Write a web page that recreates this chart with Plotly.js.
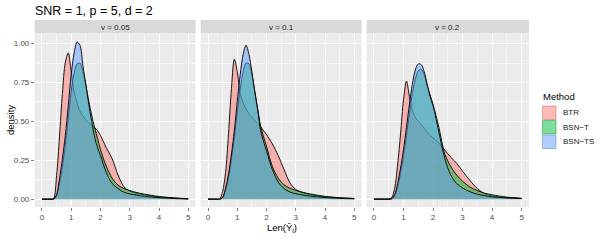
<!DOCTYPE html>
<html>
<head>
<meta charset="utf-8">
<script src="https://cdn.plot.ly/plotly-3.0.1.min.js"></script>
<style>html,body{margin:0;padding:0;background:#fff}#chart{width:600px;height:240px}</style>
</head>
<body>
<div id="chart"></div>
<script>
// ---- data ----
const panels = ["v = 0.05", "v = 0.1", "v = 0.2"];
const methods = ["BTR", "BSN\u2212T", "BSN\u2212TS"];
const xGrid = [0, 0.3, 0.4, 0.5, 0.6, 0.7, 0.8, 0.9, 1.0, 1.1, 1.2, 1.3, 1.4, 1.5, 1.6, 1.7, 1.8, 1.9, 2.0, 2.2, 2.4, 2.6, 2.8, 3.0, 3.25, 3.5, 3.75, 4.0, 4.5, 5.0];

const p1_BTR   = [0,0,0.005,0.15,0.40,0.68,0.88,0.94,0.82,0.69,0.62,0.565,0.535,0.51,0.49,0.475,0.46,0.44,0.41,0.33,0.26,0.155,0.08,0.052,0.037,0.028,0.02,0.014,0.007,0.002];
const p1_BSNT  = [0,0,0,0.02,0.10,0.21,0.35,0.52,0.69,0.81,0.87,0.875,0.82,0.73,0.63,0.54,0.46,0.39,0.32,0.21,0.135,0.09,0.068,0.055,0.042,0.032,0.024,0.017,0.008,0.003];
const p1_BSNTS = [0,0,0,0.03,0.13,0.26,0.41,0.60,0.80,0.94,1.01,0.99,0.86,0.74,0.61,0.50,0.40,0.33,0.28,0.17,0.10,0.068,0.045,0.034,0.025,0.018,0.013,0.009,0.004,0.001];

const p2_BTR   = [0,0,0,0.05,0.17,0.42,0.71,0.90,0.82,0.68,0.62,0.58,0.55,0.525,0.505,0.485,0.465,0.44,0.415,0.355,0.28,0.19,0.105,0.062,0.042,0.029,0.021,0.015,0.008,0.004];
const p2_BSNT  = [0,0,0,0.01,0.06,0.14,0.26,0.40,0.56,0.71,0.82,0.875,0.87,0.80,0.69,0.58,0.47,0.40,0.34,0.21,0.135,0.092,0.07,0.056,0.043,0.033,0.025,0.018,0.009,0.004];
const p2_BSNTS = [0,0,0,0.01,0.07,0.16,0.29,0.44,0.63,0.80,0.93,0.99,0.93,0.82,0.69,0.57,0.44,0.37,0.31,0.19,0.11,0.068,0.046,0.035,0.026,0.019,0.014,0.01,0.005,0.002];

const p3_BTR   = [0,0,0,0,0.01,0.07,0.22,0.42,0.64,0.76,0.66,0.57,0.525,0.50,0.48,0.455,0.43,0.41,0.395,0.36,0.315,0.27,0.23,0.18,0.12,0.068,0.035,0.02,0.01,0.005];
const p3_BSNT  = [0,0,0,0,0,0.02,0.08,0.17,0.28,0.41,0.55,0.68,0.77,0.825,0.835,0.80,0.73,0.67,0.61,0.46,0.29,0.21,0.155,0.115,0.078,0.055,0.038,0.028,0.013,0.005];
const p3_BSNTS = [0,0,0,0,0.005,0.03,0.10,0.20,0.32,0.46,0.61,0.74,0.83,0.87,0.865,0.82,0.74,0.66,0.60,0.43,0.26,0.155,0.10,0.072,0.048,0.032,0.022,0.015,0.007,0.003];

const xTicks = [0, 1, 2, 3, 4, 5];
const yTicks = [0, 0.25, 0.5, 0.75, 1.0];

// ---- styling ----
const series = [[p1_BTR, p1_BSNT, p1_BSNTS], [p2_BTR, p2_BSNT, p2_BSNTS], [p3_BTR, p3_BSNT, p3_BSNTS]];
const rgb = [[248,118,109],[0,186,56],[97,156,255]];
const W = 600, H = 240;
const panelPx = [[34.6,195.6],[200.7,361.6],[366.6,529]];
const yTopPx = 34, yBotPx = 207, stripTopPx = 20;

const traces = [];
const layout = {
  width: W, height: H,
  margin: {l:0, r:0, t:0, b:0},
  paper_bgcolor: '#ffffff', plot_bgcolor: '#EBEBEB',
  font: {family: 'Liberation Sans, Arial, sans-serif', color: '#4D4D4D', size: 8},
  showlegend: false,
  title: {text: 'SNR = 1, p = 5, d = 2', x: 35/W, xanchor: 'left', xref: 'paper',
          y: 1 - 11/H, yref: 'container', yanchor: 'middle',
          font: {size: 12.5, color: '#000000'}},
  shapes: [], annotations: []
};

panels.forEach((p, i) => {
  const ax = i === 0 ? '' : String(i+1);
  series[i].forEach((vals, m) => {
    const c = rgb[m];
    traces.push({
      type: 'scatter', mode: 'lines', x: xGrid, y: vals, name: methods[m],
      xaxis: 'x' + ax, yaxis: 'y' + ax,
      fill: 'tozeroy', fillcolor: `rgba(${c[0]},${c[1]},${c[2]},0.5)`,
      line: {color: '#000000', width: 0.9, shape: 'spline', smoothing: 0.9},
      showlegend: false, hoverinfo: 'skip'
    });
  });
  const dom = [panelPx[i][0]/W, panelPx[i][1]/W];
  layout['xaxis' + ax] = {
    domain: dom, range: [-0.25, 5.25], anchor: 'y' + ax,
    tickvals: xTicks, ticktext: xTicks.map(String), ticks: 'outside', ticklen: 2.7, tickwidth: 0.6, tickcolor: '#333333',
    showgrid: true, gridcolor: '#FFFFFF', gridwidth: 1, zeroline: false, showline: false,
    minor: {tickvals: [0.5,1.5,2.5,3.5,4.5], showgrid: true, gridcolor: '#FFFFFF', gridwidth: 0.5, ticks: ''},
    tickfont: {size: 8, color: '#4D4D4D'}, fixedrange: true
  };
  layout['yaxis' + ax] = {
    domain: [1 - yBotPx/H, 1 - yTopPx/H], range: [-0.0506, 1.062], anchor: 'x' + ax,
    tickvals: yTicks, ticktext: yTicks.map(v => v.toFixed(2)), showticklabels: i === 0,
    ticks: i === 0 ? 'outside' : '', ticklen: 2.7, tickwidth: 0.6, tickcolor: '#333333',
    showgrid: true, gridcolor: '#FFFFFF', gridwidth: 1, zeroline: false, showline: false,
    minor: {tickvals: [0.125,0.375,0.625,0.875], showgrid: true, gridcolor: '#FFFFFF', gridwidth: 0.5, ticks: ''},
    tickfont: {size: 8, color: '#4D4D4D'}, fixedrange: true
  };
  layout.shapes.push({type: 'rect', xref: 'paper', yref: 'paper', layer: 'below',
    x0: dom[0], x1: dom[1], y0: 1 - (yTopPx - 0.5)/H, y1: 1 - stripTopPx/H,
    fillcolor: '#D9D9D9', line: {width: 0}});
  layout.annotations.push({xref: 'paper', yref: 'paper', x: (dom[0]+dom[1])/2, y: 1 - (stripTopPx + yTopPx)/2/H,
    text: p, showarrow: false, xanchor: 'center', yanchor: 'middle', font: {size: 8, color: '#1A1A1A'}});
});

// legend (drawn as keys + labels)
const legX0 = 542.5, legKey = 13.5, legTop = 106, legStep = 14.5;
layout.annotations.push({xref: 'paper', yref: 'paper', x: 541/W, y: 1 - 96/H, text: 'Method',
  showarrow: false, xanchor: 'left', yanchor: 'middle', font: {size: 9.5, color: '#000000'}});
methods.forEach((m, k) => {
  const c = rgb[k];
  const y0 = legTop + k*legStep;
  layout.shapes.push({type: 'rect', xref: 'paper', yref: 'paper',
    x0: legX0/W, x1: (legX0+legKey)/W, y0: 1 - (y0+legKey)/H, y1: 1 - y0/H,
    fillcolor: `rgba(${c[0]},${c[1]},${c[2]},0.5)`,
    line: {color: `rgba(${Math.round(c[0]*0.75)},${Math.round(c[1]*0.75)},${Math.round(c[2]*0.75)},0.55)`, width: 0.8}});
  layout.annotations.push({xref: 'paper', yref: 'paper', x: 561/W, y: 1 - (y0+legKey/2)/H, text: m,
    showarrow: false, xanchor: 'left', yanchor: 'middle', font: {size: 8, color: '#1A1A1A'}});
});

// axis titles
layout.annotations.push({xref: 'paper', yref: 'paper', x: 282/W, y: 1 - 228/H, text: 'Len(\u0176<sub>i</sub>)',
  showarrow: false, xanchor: 'center', yanchor: 'middle', font: {size: 9.5, color: '#000000'}});
layout.annotations.push({xref: 'paper', yref: 'paper', x: 10/W, y: 1 - 120/H, text: 'density', textangle: -90,
  showarrow: false, xanchor: 'center', yanchor: 'middle', font: {size: 9.5, color: '#000000'}});

Plotly.newPlot('chart', traces, layout, {staticPlot: true, displayModeBar: false});
</script>
</body>
</html>
